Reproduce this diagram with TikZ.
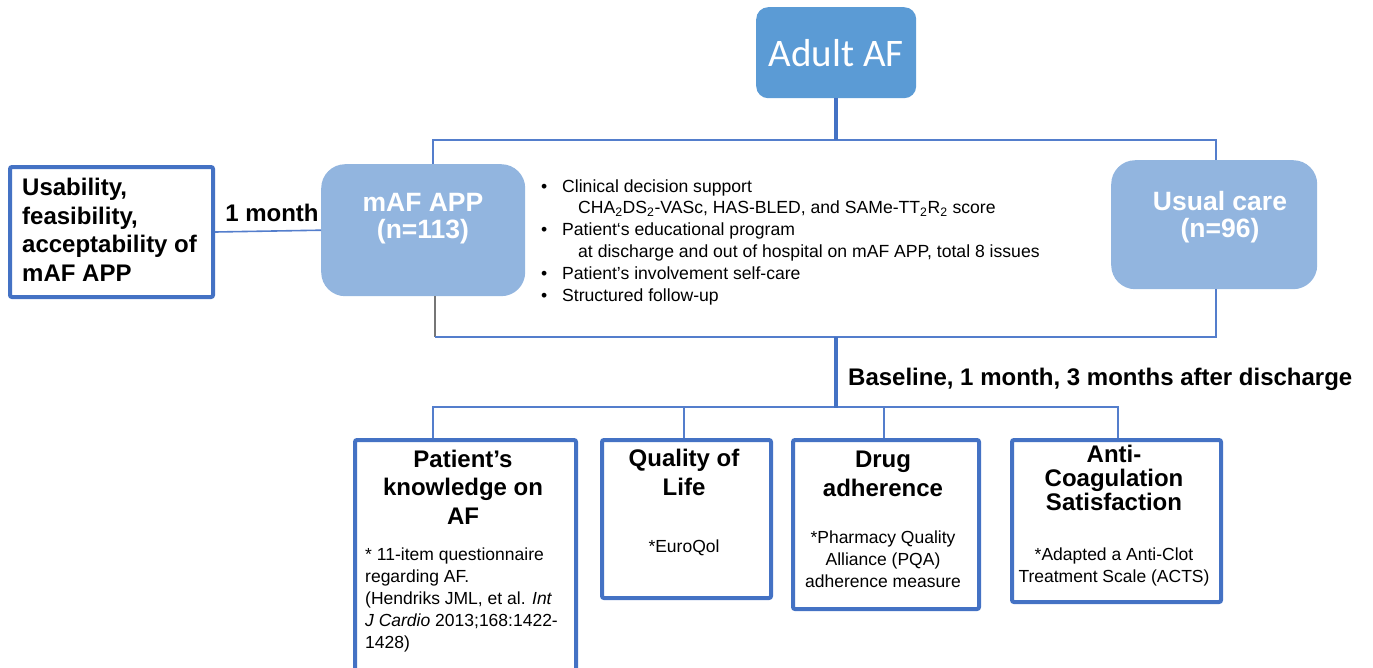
\documentclass[tikz,border=0pt]{standalone}
\usepackage{fontspec}
\setmainfont{Liberation Sans}
\newfontfamily\calibfont{Carlito}
\definecolor{boxblue}{RGB}{68,114,196}
\definecolor{linkblue}{RGB}{84,126,204}
\definecolor{armfill}{RGB}{146,181,223}
\definecolor{rootfill}{RGB}{91,155,213}
\definecolor{stemgray}{RGB}{118,118,118}
\tikzset{
  outcome/.style={draw=boxblue,line width=4pt,fill=white,rounded corners=2pt,anchor=north west,inner sep=0pt},
  arm/.style={fill=armfill,rounded corners=24pt,anchor=north west,inner sep=0pt},
  link/.style={draw=linkblue,line width=1.6pt},
  trunk/.style={draw=boxblue,line width=4pt},
  title/.style={font=\fontsize{24}{28.5}\selectfont\bfseries,align=center,anchor=base,inner sep=0pt},
  body/.style={font=\fontsize{17.5}{22}\selectfont,align=center,anchor=base,inner sep=0pt},
  armtext/.style={font=\fontsize{26.5}{26.5}\selectfont\bfseries,text=white,align=center,anchor=base,inner sep=0pt}
}

\begin{document}
\begin{tikzpicture}[x=1pt,y=-1pt]
\useasboundingbox (0,0) rectangle (1373,667);

% top of the tree (multi-line texts sit on their last baseline)
\node[fill=rootfill,rounded corners=12pt,minimum width=160pt,minimum height=91pt,anchor=north west,inner sep=0pt,
      text=white,font=\calibfont\fontsize{39}{39}\selectfont] (adult) at (756,7) {Adult AF};
\node[arm,minimum width=204pt,minimum height=132pt] (maf) at (321,164) {};
\node[arm,minimum width=206pt,minimum height=129pt] (usual) at (1111,160) {};
\node[armtext] (maflbl) at (423,238) {mAF APP\\(n=113)};
\node[armtext] (usuallbl) at (1220,237) {Usual care\\(n=96)};
\node[outcome,minimum width=203pt,minimum height=130pt] (usab) at (8,165) {};
\node[title,align=left,anchor=base west] (usablbl) at (22,281) {Usability,\\feasibility,\\acceptability of\\mAF APP};

\node[anchor=base west,inner sep=0pt,align=left,font=\fontsize{17.6}{21.8}\selectfont] (features) at (541,301) {%
  \makebox[21pt][l]{\textbullet}Clinical decision support\\
  \hspace*{37pt}CHA\textsubscript{2}DS\textsubscript{2}-VASc, HAS-BLED, and SAMe-TT\textsubscript{2}R\textsubscript{2} score\\
  \makebox[21pt][l]{\textbullet}Patient‘s educational program\\
  \hspace*{37pt}at discharge and out of hospital on mAF APP, total 8 issues\\
  \makebox[21pt][l]{\textbullet}Patient’s involvement self-care\\
  \makebox[21pt][l]{\textbullet}Structured follow-up};

% outcomes
\node[outcome,minimum width=221pt,minimum height=250pt] (patient) at (353,438) {};
\node[outcome,minimum width=169pt,minimum height=158pt] (quality) at (600,438) {};
\node[outcome,minimum width=186pt,minimum height=169pt] (drug) at (791,438) {};
\node[outcome,minimum width=209pt,minimum height=162pt] (anti) at (1010,438) {};

\node[title] (patientlbl) at (463,524) {Patient’s\\knowledge on\\AF};
\node[body,align=left,anchor=base west] (patientref) at (365,648) {* 11-item questionnaire\\regarding AF.\\(Hendriks JML, et al. \textit{Int}\\\textit{J Cardio} 2013;168:1422-\\1428)};
\node[title] (qualitylbl) at (684,495) {Quality of\\Life};
\node[body] (qualityref) at (684,552) {*EuroQol};
\node[title] (druglbl) at (883,496) {Drug\\adherence};
\node[body] (drugref) at (883,587) {*Pharmacy Quality\\Alliance (PQA)\\adherence measure};
\node[title,font=\fontsize{24}{24}\selectfont\bfseries] (antilbl) at (1114,510) {Anti-\\Coagulation\\Satisfaction};
\node[body] (antiref) at (1114,582) {*Adapted a Anti-Clot\\Treatment Scale (ACTS)};

% connectors
\coordinate (topL) at (433,140);
\coordinate (topR) at (1216,140);
\coordinate (midL) at (435,337);
\coordinate (midC) at (836,337);
\coordinate (midR) at (1216,337);
\coordinate (lowL) at (433,407);
\coordinate (lowR) at (1118,407);
\coordinate (dropQ) at (684,407);
\coordinate (dropD) at (884,407);

\draw[link] (maf.north -| topL) -- (topL) -- (topR) -- (usual.north -| topR);
\draw[link] (usab.east) -- node[above=9pt,xshift=4pt,inner sep=0pt,font=\fontsize{24}{24}\selectfont\bfseries] (onemonth) {1 month} (maf.west);
\draw[stemgray,line width=1.6pt] (maf.south -| midL) -- (midL);
\draw[link] (midL) -- (midR) -- (usual.south -| midR);
\draw[link] (patient.north -| lowL) -- (lowL) -- (lowR) -- (anti.north -| lowR);
\draw[link] (dropQ) -- (quality.north -| dropQ);
\draw[link] (dropD) -- (drug.north -| dropD);
\draw[trunk] (adult.south) -- (adult.south |- topL);
\draw[trunk] (midC) -- ([yshift=-1pt]midC |- lowL);
\node[anchor=base west,inner sep=0pt,font=\fontsize{24}{24}\selectfont\bfseries] (timing) at (848,385) {Baseline, 1 month, 3 months after discharge};
\end{tikzpicture}
\end{document}
